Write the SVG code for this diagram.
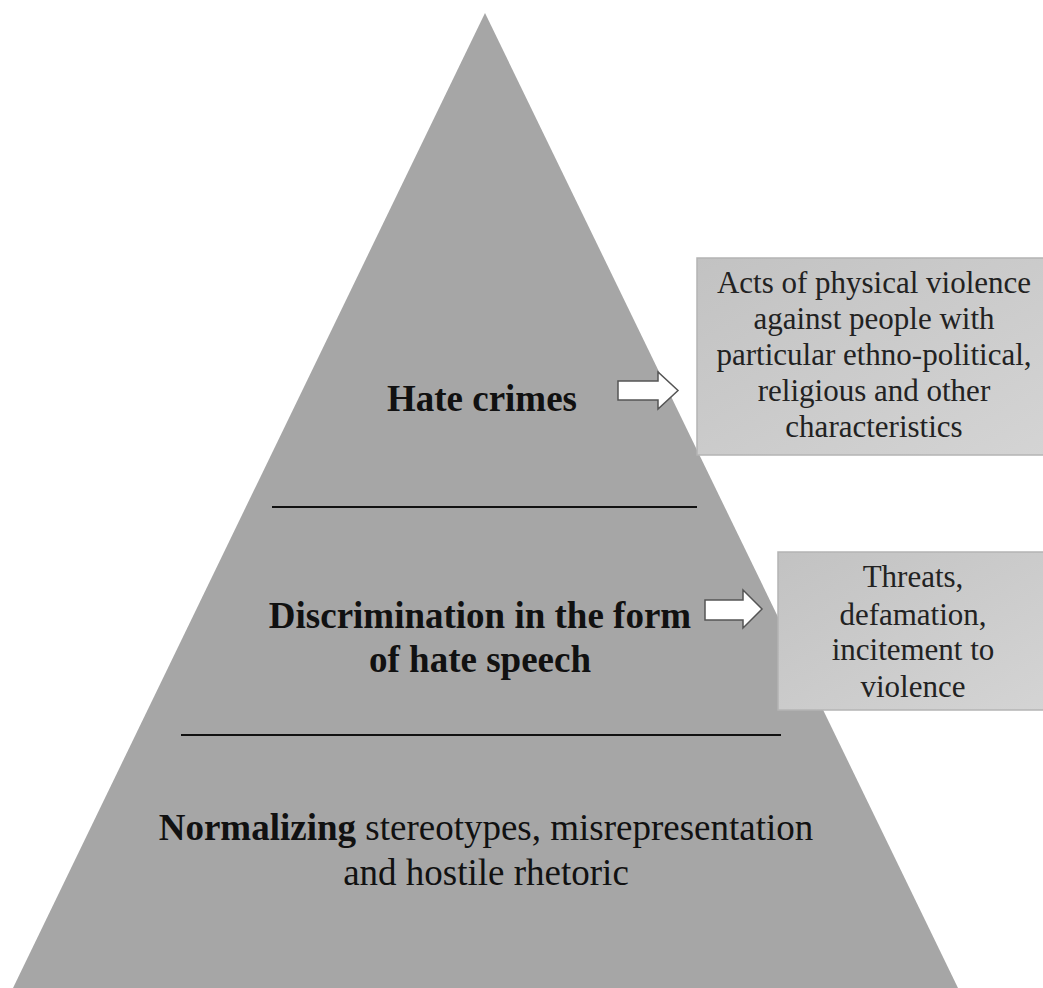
<svg xmlns="http://www.w3.org/2000/svg" width="1043" height="988" viewBox="0 0 1043 988">
  <defs>
    <linearGradient id="boxFill" x1="0" y1="0" x2="1" y2="1">
      <stop offset="0" stop-color="#c2c2c2"/>
      <stop offset="1" stop-color="#d4d4d4"/>
    </linearGradient>
    <style>
      .level { font-family: "Liberation Serif", "Times New Roman", serif; font-size: 37px; fill: #111; text-anchor: middle; }
      .bold { font-weight: bold; }
      .note { font-family: "Liberation Serif", "Times New Roman", serif; font-size: 31px; fill: #222; text-anchor: middle; }
      .divider { stroke: #111; stroke-width: 2; }
      .callout { fill: url(#boxFill); stroke: #b4b4b4; stroke-width: 1.5; }
      .pointer { fill: #ffffff; stroke: #555; stroke-width: 1.5; stroke-linejoin: miter; }
    </style>
  </defs>

  <rect width="1043" height="988" fill="#ffffff"/>

  <!-- pyramid body -->
  <g id="pyramid">
    <polygon points="485,13 958,988 13,988" fill="#a6a6a6"/>
  </g>

  <!-- level dividers and pointer arrows -->
  <g id="connectors">
    <line class="divider" x1="272" y1="507" x2="697" y2="507"/>
    <line class="divider" x1="181" y1="735" x2="781" y2="735"/>
    <polygon class="pointer" points="618,381 658,381 658,372 678,390.5 658,409 658,400 618,400"/>
    <polygon class="pointer" points="705,600 743,600 743,590 762,609 743,628 743,620 705,620"/>
  </g>

  <g id="level-hate-crimes">
    <text class="level bold" x="482" y="411">Hate crimes</text>
  </g>

  <g id="level-hate-speech">
    <text class="level bold" x="480" y="628">Discrimination in the form</text>
    <text class="level bold" x="480" y="672">of hate speech</text>
  </g>

  <g id="level-normalizing">
    <text class="level" x="486" y="840"><tspan class="bold">Normalizing</tspan> stereotypes, misrepresentation</text>
    <text class="level" x="486" y="885">and hostile rhetoric</text>
  </g>

  <g id="callout-violence">
    <rect class="callout" x="697" y="258" width="350" height="197"/>
    <text class="note" x="874" y="293">Acts of physical violence</text>
    <text class="note" x="874" y="329">against people with</text>
    <text class="note" x="874" y="365">particular ethno-political,</text>
    <text class="note" x="874" y="401">religious and other</text>
    <text class="note" x="874" y="437">characteristics</text>
  </g>

  <g id="callout-speech">
    <rect class="callout" x="778" y="552" width="269" height="158"/>
    <text class="note" x="913" y="587">Threats,</text>
    <text class="note" x="913" y="625">defamation,</text>
    <text class="note" x="913" y="660">incitement to</text>
    <text class="note" x="913" y="697">violence</text>
  </g>
</svg>
